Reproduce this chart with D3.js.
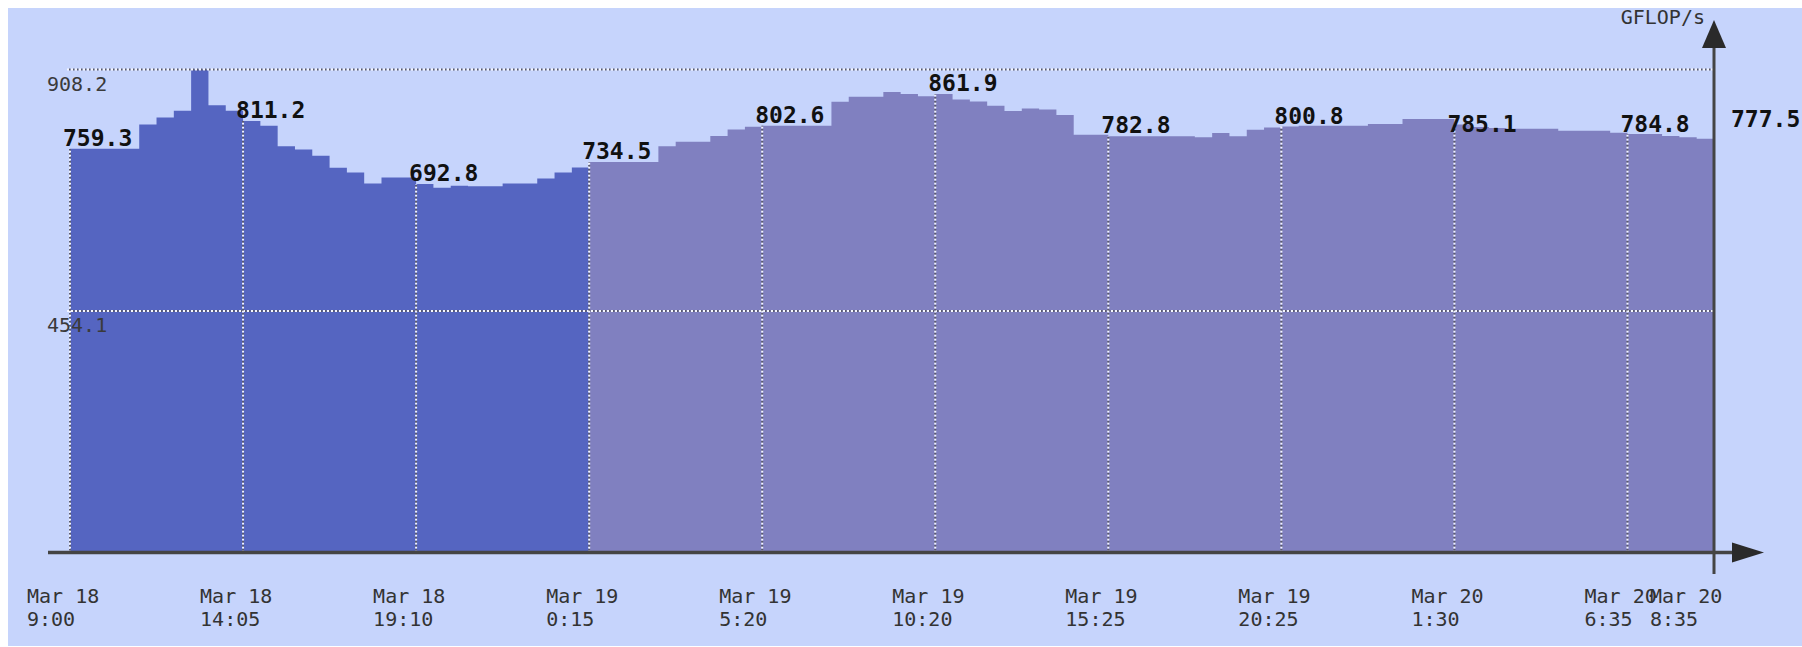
<!DOCTYPE html>
<html>
<head>
<meta charset="utf-8">
<script src="https://cdn.jsdelivr.net/npm/d3@7"></script>
<style>
  html, body { margin: 0; padding: 0; background: #fff; }
  svg { display: block; }
  text { font-family: "DejaVu Sans Mono", "Liberation Mono", monospace; }
</style>
</head>
<body>
<div id="chart"></div>
<script>
// GFLOP/s samples, one per step (~30 min each), Mar 18 9:00 -> Mar 20 8:35
var values = [
	759.3, 759.3, 759.3, 759.3, 805.0, 818.0, 830.7, 908.2, 841.0, 830.7,
	811.2, 802.4, 764.0, 757.9, 746.0, 723.4, 714.6, 693.9, 705.2, 705.2,
	692.8, 685.8, 689.5, 688.9, 688.9, 693.9, 693.9, 703.3, 714.6, 724.0,
	734.5, 734.5, 734.5, 734.5, 764.0, 772.3, 772.3, 783.0, 795.5, 800.5,
	802.6, 802.6, 802.6, 802.6, 847.6, 857.0, 857.0, 866.0, 862.0, 858.0,
	861.9, 852.0, 848.2, 840.0, 830.0, 835.0, 833.0, 822.5, 785.5, 785.5,
	782.8, 782.8, 782.8, 782.8, 782.8, 781.0, 789.0, 782.8, 795.0, 799.0,
	800.8, 802.4, 802.4, 802.4, 802.4, 805.6, 805.6, 815.0, 815.0, 815.0,
	805.0, 800.0, 798.0, 797.0, 797.0, 797.0, 793.0, 793.0, 793.0, 789.5,
	786.8, 786.8, 783.0, 781.0, 778.0
];
// first part of the series is drawn darker
var split_index = 30;

var tick_index = [0, 10, 20, 30, 40, 50, 60, 70, 80, 90, 95];
var tick_day = ["Mar 18", "Mar 18", "Mar 18", "Mar 19", "Mar 19", "Mar 19", "Mar 19", "Mar 19", "Mar 20", "Mar 20", "Mar 20"];
var tick_time = ["9:00", "14:05", "19:10", "0:15", "5:20", "10:20", "15:25", "20:25", "1:30", "6:35", "8:35"];
var tick_value = [759.3, 811.2, 692.8, 734.5, 802.6, 861.9, 782.8, 800.8, 785.1, 784.8, 777.5];

var y_ticks = [454.1, 908.2];
var y_unit = "GFLOP/s";

var W = 1802, H = 647;
var svg = d3.select("#chart").append("svg")
	.attr("width", W)
	.attr("height", H);

svg.append("rect")
	.attr("x", 8).attr("y", 8)
	.attr("width", W - 8).attr("height", H - 9)
	.attr("fill", "#c6d4fc");

var x = d3.scaleLinear().domain([0, values.length]).range([70, 1714]);
var y = d3.scaleLinear().domain([0, 908.2]).range([552.5, 69.5]);

var pts = values.map(function(v, i) { return {i: i, v: v}; });
pts.push({i: values.length, v: values[values.length - 1]});

var area = d3.area()
	.curve(d3.curveStepAfter)
	.x(function(d) { return x(d.i); })
	.y0(y(0))
	.y1(function(d) { return y(d.v); });

// dark first part, then lavender
var first = pts.slice(0, split_index).concat([{i: split_index, v: values[split_index - 1]}]);
var second = pts.slice(split_index);

svg.append("path").datum(second).attr("d", area).attr("fill", "#8080c0");
svg.append("path").datum(first).attr("d", area).attr("fill", "#5565c1");

// dotted grid line: white and grey dots alternating
function dotted(g, x1, y1, x2, y2) {
	g.append("line")
		.attr("x1", x1).attr("y1", y1).attr("x2", x2).attr("y2", y2)
		.attr("stroke", "#f4f6ff").attr("stroke-width", 2)
		.attr("stroke-dasharray", "2,2");
	g.append("line")
		.attr("x1", x1).attr("y1", y1).attr("x2", x2).attr("y2", y2)
		.attr("stroke", "#5a5a6a").attr("stroke-width", 2)
		.attr("stroke-dasharray", "1.5,2.5")
		.attr("stroke-dashoffset", 2);
}

var grid = svg.append("g");
y_ticks.forEach(function(t) {
	dotted(grid, x(0) - 3, y(t), x(values.length), y(t));
});

// vertical drop lines at the time ticks (last one is the axis)
tick_index.forEach(function(ti) {
	if (ti >= values.length) return;
	dotted(grid, x(ti), y(0), x(ti), y(values[ti]));
});

// y tick labels
svg.append("g")
	.selectAll("text")
	.data(y_ticks)
	.enter()
	.append("text")
	.attr("x", 47)
	.attr("y", function(d) { return y(d) + 21; })
	.attr("font-size", "20px")
	.attr("fill", "#3a3a3a")
	.text(function(d) { return d.toFixed(1); });

// axes
var axis_col = "#444444";
svg.append("line")
	.attr("x1", 48).attr("y1", y(0))
	.attr("x2", 1734).attr("y2", y(0))
	.attr("stroke", axis_col).attr("stroke-width", 3.5);
svg.append("path")
	.attr("d", "M1732," + (y(0) - 10) + "L1764," + y(0) + "L1732," + (y(0) + 10) + "Z")
	.attr("fill", "#2a2a2a");

svg.append("line")
	.attr("x1", x(values.length)).attr("y1", 46)
	.attr("x2", x(values.length)).attr("y2", 574)
	.attr("stroke", axis_col).attr("stroke-width", 3);
svg.append("path")
	.attr("d", "M" + (x(values.length) - 12) + ",48L" + x(values.length) + ",20L" + (x(values.length) + 12) + ",48Z")
	.attr("fill", "#2a2a2a");

svg.append("text")
	.attr("x", x(values.length) - 9)
	.attr("y", 24)
	.attr("text-anchor", "end")
	.attr("font-size", "20px")
	.attr("fill", "#333")
	.text(y_unit);

// time labels (two lines)
var tl = svg.append("g")
	.selectAll("text")
	.data(tick_index)
	.enter()
	.append("text")
	.attr("font-size", "20px")
	.attr("fill", "#333")
	.attr("x", function(d, i) { return x(d) - (i == tick_index.length - 1 ? 64 : 43); });
tl.append("tspan")
	.attr("y", 603)
	.text(function(d, i) { return tick_day[i]; });
tl.append("tspan")
	.attr("x", function(d, i) { return x(d) - (i == tick_index.length - 1 ? 64 : 43); })
	.attr("y", 626)
	.text(function(d, i) { return tick_time[i]; });

// value labels at each tick
svg.append("g")
	.selectAll("text")
	.data(tick_index)
	.enter()
	.append("text")
	.attr("font-size", "23px")
	.attr("font-weight", "bold")
	.attr("fill", "#111")
	.attr("x", function(d, i) { return i == tick_index.length - 1 ? x(d) + 17 : x(d) - 7; })
	.attr("y", function(d, i) { return y(tick_value[i]) - (i == tick_index.length - 1 ? 12 : 3); })
	.text(function(d, i) { return tick_value[i].toFixed(1); });
</script>
</body>
</html>
